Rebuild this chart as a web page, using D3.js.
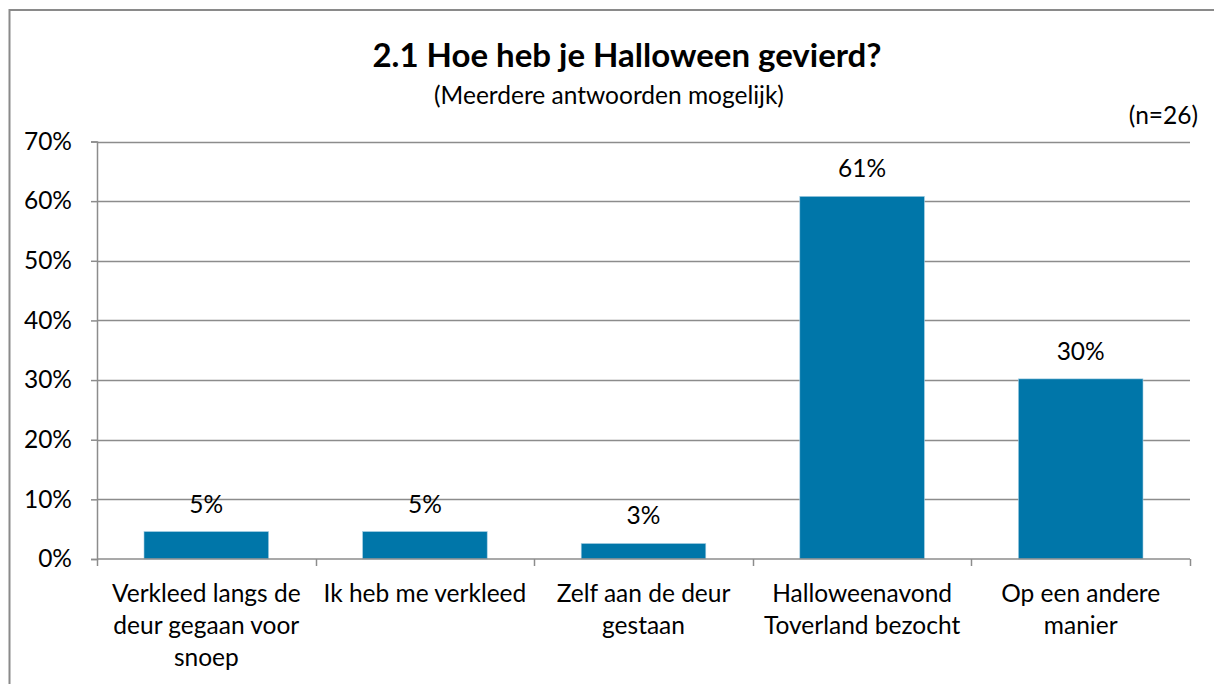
<!DOCTYPE html>
<html>
<head>
<meta charset="utf-8">
<script src="https://cdn.jsdelivr.net/npm/d3@7"></script>
<style>
  html, body { margin: 0; padding: 0; background: #fff; }
  svg { display: block; }
  text { font-family: Lato, "Open Sans", sans-serif; fill: #000; }
</style>
</head>
<body>
<script>
const categories = [
  ["Verkleed langs de", "deur gegaan voor", "snoep"],
  ["Ik heb me verkleed"],
  ["Zelf aan de deur", "gestaan"],
  ["Halloweenavond", "Toverland bezocht"],
  ["Op een andere", "manier"]
];
const values = [4.6, 4.6, 2.6, 60.8, 30.2];
const valueLabels = ["5%", "5%", "3%", "61%", "30%"];
const yTicks = [0, 10, 20, 30, 40, 50, 60, 70];
const title = "2.1 Hoe heb je Halloween gevierd?";
const subtitle = "(Meerdere antwoorden mogelijk)";
const note = "(n=26)";

const W = 1214, H = 684;
const FS = "24.5px";
const margin = { left: 97, right: 24, top: 141.5, bottom: 125 };
const svg = d3.select("body").append("svg").attr("width", W).attr("height", H);

// outer frame (only top & left visible)
svg.append("rect").attr("x", 9.5).attr("y", 10).attr("width", 1220).attr("height", 700)
  .attr("fill", "none").attr("stroke", "#8a8a8a").attr("stroke-width", 2);

const x = d3.scaleBand().domain(d3.range(categories.length))
  .range([margin.left, W - margin.right]).paddingInner(0.43).paddingOuter(0.215);
const xEdges = d3.scaleLinear().domain([0, categories.length]).range([margin.left, W - margin.right]);
const y = d3.scaleLinear().domain([0, 70]).range([H - margin.bottom, margin.top]);

// gridlines
svg.append("g").selectAll("line").data(yTicks.filter(d => d > 0)).join("line")
  .attr("x1", margin.left).attr("x2", W - margin.right)
  .attr("y1", d => Math.round(y(d)) + 0.5).attr("y2", d => Math.round(y(d)) + 0.5)
  .attr("stroke", "#8c8c8c").attr("stroke-width", 1.5);

// y axis
const yAxis = d3.axisLeft(y).tickValues(yTicks).tickFormat(d => d + "%").tickSize(6).tickPadding(19);
const gy = svg.append("g").attr("transform", `translate(${margin.left},0)`).call(yAxis);
gy.select(".domain").attr("stroke", "#8c8c8c").attr("stroke-width", 1.5);
gy.selectAll(".tick line").attr("stroke", "#8c8c8c").attr("stroke-width", 1.5);
gy.selectAll(".tick text").style("font-family", "Lato, sans-serif").style("font-size", FS).attr("fill", "#000");

// bars
svg.append("g").selectAll("rect").data(values).join("rect")
  .attr("x", (d, i) => x(i)).attr("width", x.bandwidth())
  .attr("y", d => y(d)).attr("height", d => y(0) - y(d))
  .attr("fill", "#0076a9").attr("stroke", "#a8cfe3").attr("stroke-width", 0.6);

// value labels
svg.append("g").selectAll("text").data(values).join("text")
  .attr("x", (d, i) => x(i) + x.bandwidth() / 2).attr("y", d => y(d) - 19)
  .attr("text-anchor", "middle").style("font-size", FS)
  .text((d, i) => valueLabels[i]);

// x axis
const gx = svg.append("g");
gx.append("line").attr("x1", margin.left).attr("x2", W - margin.right)
  .attr("y1", y(0)).attr("y2", y(0)).attr("stroke", "#8c8c8c").attr("stroke-width", 1.5);
gx.selectAll(".xt").data(d3.range(categories.length + 1)).join("line").attr("class", "xt")
  .attr("x1", d => Math.round(xEdges(d)) + 0.5).attr("x2", d => Math.round(xEdges(d)) + 0.5)
  .attr("y1", y(0)).attr("y2", y(0) + 7).attr("stroke", "#8c8c8c").attr("stroke-width", 1.5);
const cl = gx.selectAll(".cl").data(categories).join("text").attr("class", "cl")
  .attr("text-anchor", "middle").style("font-size", FS);
cl.each(function(lines, i) {
  d3.select(this).selectAll("tspan").data(lines).join("tspan")
    .attr("x", x(i) + x.bandwidth() / 2)
    .attr("y", (l, j) => y(0) + 43 + j * 32)
    .text(l => l);
});

// titles
svg.append("text").attr("x", 627).attr("y", 67).attr("text-anchor", "middle")
  .style("font-size", "33px").style("font-weight", "bold").text(title);
svg.append("text").attr("x", 609).attr("y", 104).attr("text-anchor", "middle")
  .style("font-size", FS).text(subtitle);
svg.append("text").attr("x", 1198).attr("y", 124).attr("text-anchor", "end")
  .style("font-size", FS).text(note);
</script>
</body>
</html>
